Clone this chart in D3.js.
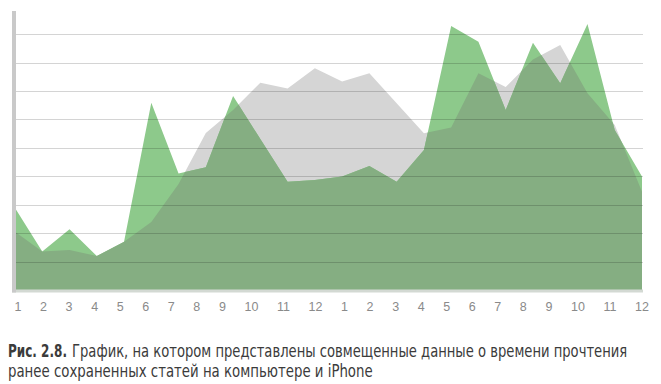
<!DOCTYPE html>
<html>
<head>
<meta charset="utf-8">
<script src="https://cdn.jsdelivr.net/npm/d3@7/dist/d3.min.js"></script>
<style>
  html, body { margin: 0; padding: 0; background: #ffffff; }
  svg { display: block; }
</style>
</head>
<body>
<svg id="chart" width="661" height="384"></svg>
<script>
// ---- Data (in gridline units) ----
const monthLabels = ["1","2","3","4","5","6","7","8","9","10","11","12",
                     "1","2","3","4","5","6","7","8","9","10","11","12"];
// computer (grey area)
const computerValues = [2.05, 1.35, 1.41, 1.20, 1.70, 2.39, 3.73, 5.52, 6.33, 7.29, 7.09, 7.80,
                        7.33, 7.62, 6.57, 5.51, 5.72, 7.62, 7.14, 8.11, 8.62, 6.92, 5.80, 3.46];
// iPhone (green area)
const iphoneValues   = [2.88, 1.35, 2.14, 1.20, 1.70, 6.59, 4.10, 4.32, 6.82, 5.31, 3.81, 3.87,
                        3.99, 4.36, 3.81, 4.92, 9.29, 8.73, 6.33, 8.70, 7.27, 9.36, 5.63, 3.99];
const gridValues = [1, 2, 3, 4, 5, 6, 7, 8, 9];
const captionBold = "Рис. 2.8.";
const captionLine1 = "График, на котором представлены совмещенные данные о времени прочтения";
const captionLine2 = "ранее сохраненных статей на компьютере и iPhone";

// ---- Chart ----
const svg = d3.select("#chart");
const x = d3.scaleLinear().domain([0, monthLabels.length - 1]).range([15, 642]);
const y = d3.scaleLinear().domain([0, 10]).range([290, 5.7]);

const area = d3.area()
  .x((d, i) => x(i))
  .y0(y(0))
  .y1(d => y(d));

const defs = svg.append("defs");
defs.append("clipPath").attr("id", "computerClip")
  .append("path").attr("d", area(computerValues));

svg.append("path").attr("d", area(computerValues)).attr("fill", "#d5d5d5");
svg.append("path").attr("d", area(iphoneValues)).attr("fill", "#8dc98b");
svg.append("path").attr("d", area(iphoneValues)).attr("fill", "#85ae82")
  .attr("clip-path", "url(#computerClip)");

// gridlines
svg.append("g").selectAll("line").data(gridValues).join("line")
  .attr("x1", 16).attr("x2", 643)
  .attr("y1", d => Math.round(y(d)) + 0.5).attr("y2", d => Math.round(y(d)) + 0.5)
  .attr("stroke", "rgba(0,0,0,0.17)").attr("stroke-width", 1.2);

// bottom strip
svg.append("line").attr("x1", 12).attr("x2", 643)
  .attr("y1", y(0) + 1).attr("y2", y(0) + 1)
  .attr("stroke", "#d3d9d3").attr("stroke-width", 3);

// left axis bar
svg.append("line").attr("x1", 14).attr("x2", 14)
  .attr("y1", 11).attr("y2", y(0) + 2.5)
  .attr("stroke", "#c9c9c9").attr("stroke-width", 4);

// month labels, laid out as a justified line of text between first & last positions
const labelG = svg.append("g")
  .attr("font-family", "'Liberation Sans', Arial, sans-serif")
  .attr("font-size", 12.5)
  .attr("fill", "#8a8a8a");
const labels = labelG.selectAll("text").data(monthLabels).join("text")
  .attr("y", 311)
  .attr("text-anchor", "middle")
  .text(d => d);
const widths = [];
labels.each(function () { widths.push(this.getComputedTextLength()); });
const firstC = 18, lastC = 642;
const n = widths.length;
const sumW = d3.sum(widths);
const gap = ((lastC + widths[n - 1] / 2) - (firstC - widths[0] / 2) - sumW) / (n - 1);
const centers = [];
let left = firstC - widths[0] / 2;
widths.forEach(w => { centers.push(left + w / 2); left += w + gap; });
labels.attr("x", (d, i) => centers[i]);

// caption: condensed by a horizontal scale so each piece spans its width in the reference
const cap = svg.append("g")
  .attr("font-family", "'Liberation Sans Narrow', 'DejaVu Sans Condensed', Arial, sans-serif")
  .attr("font-size", 18)
  .attr("fill", "#3b3b3b");
function captionText(str, x0, y0, targetW, bold) {
  const t = cap.append("text").attr("x", 0).attr("y", 0).text(str);
  if (bold) t.attr("font-weight", "bold");
  const w = t.node().getComputedTextLength();
  t.attr("transform", `translate(${x0},${y0}) scale(${targetW / w},1)`);
}
captionText(captionBold, 8, 357, 59, true);
captionText(captionLine1, 72, 357, 556, false);
captionText(captionLine2, 8, 377, 365, false);
</script>
</body>
</html>
